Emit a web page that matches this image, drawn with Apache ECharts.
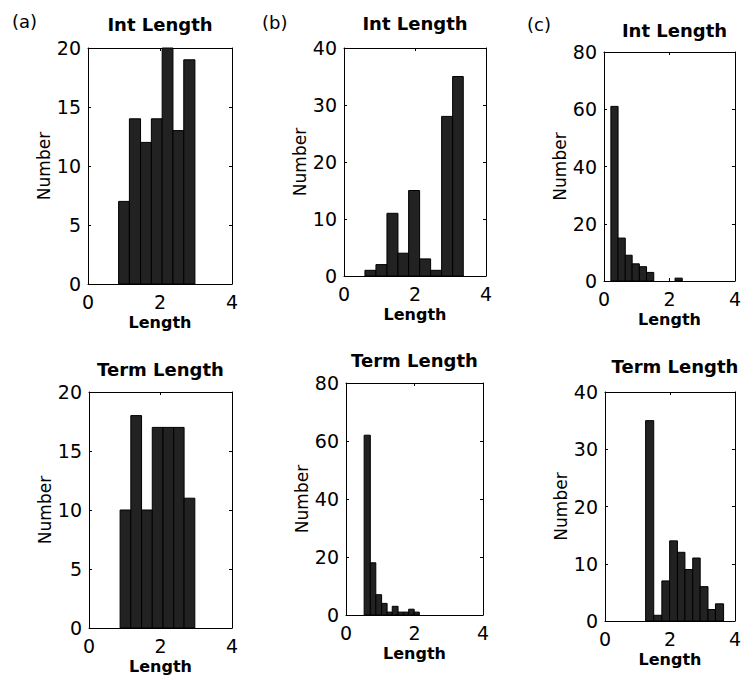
<!DOCTYPE html>
<html>
<head>
<meta charset="utf-8">
<script src="https://cdn.jsdelivr.net/npm/echarts@6/dist/echarts.min.js"></script>
<style>
html,body{margin:0;padding:0;background:#fff;overflow:hidden;}
#chart{width:744px;height:677px;}
</style>
</head>
<body>
<div id="chart"></div>
<script>
// ---- Data ----
const panelLabels = ['(a)', '(b)', '(c)'];
const rowTitles = ['Int Length', 'Term Length'];
const xAxisTitle = 'Length';
const yAxisTitle = 'Number';

const xTicks = [0, 2, 4];
const yTicksA = [0, 5, 10, 15, 20];
const yTicks40 = [0, 10, 20, 30, 40];
const yTicks80 = [0, 20, 40, 60, 80];

// bin edges and counts
const aIntEdges = [0.85, 1.15, 1.46, 1.76, 2.06, 2.36, 2.66, 2.97];
const aIntCounts = [7, 14, 12, 14, 20, 13, 19];
const aTermEdges = [0.87, 1.17, 1.47, 1.77, 2.07, 2.37, 2.66, 2.96];
const aTermCounts = [10, 18, 10, 17, 17, 17, 11];
const bIntEdges = [0.59, 0.90, 1.21, 1.52, 1.82, 2.13, 2.44, 2.75, 3.06, 3.36];
const bIntCounts = [1, 2, 11, 4, 15, 3, 1, 28, 35];
const bTermEdges = [0.53, 0.71, 0.87, 1.04, 1.20, 1.35, 1.52, 1.68, 1.83, 1.99, 2.14];
const bTermCounts = [62, 18, 7, 4, 1, 3, 1, 1, 2, 1];
const cIntEdges = [0.21, 0.43, 0.65, 0.86, 1.08, 1.30, 1.52, 1.74, 1.96, 2.17, 2.39];
const cIntCounts = [61, 15, 9, 6, 5, 3, 0, 0, 0, 1];
const cTermEdges = [1.25, 1.50, 1.75, 1.99, 2.23, 2.46, 2.70, 2.93, 3.17, 3.40, 3.65];
const cTermCounts = [35, 1, 7, 14, 12, 9, 11, 6, 2, 3];

// ---- Layout ----
const panels = [
  {edges: aIntEdges, counts: aIntCounts, yTicks: yTicksA, grid: {left: 88, top: 48, width: 144, height: 236}, title: rowTitles[0], titleY: 24},
  {edges: aTermEdges, counts: aTermCounts, yTicks: yTicksA, grid: {left: 89, top: 392, width: 143, height: 236}, title: rowTitles[1], titleY: 369},
  {edges: bIntEdges, counts: bIntCounts, yTicks: yTicks40, grid: {left: 344, top: 48, width: 142, height: 228}, title: rowTitles[0], titleY: 23},
  {edges: bTermEdges, counts: bTermCounts, yTicks: yTicks80, grid: {left: 346, top: 383, width: 137, height: 232}, title: rowTitles[1], titleY: 360},
  {edges: cIntEdges, counts: cIntCounts, yTicks: yTicks80, grid: {left: 604, top: 52, width: 141, height: 229}, title: rowTitles[0], titleY: 30},
  {edges: cTermEdges, counts: cTermCounts, yTicks: yTicks40, grid: {left: 605, top: 392, width: 140, height: 229}, title: rowTitles[1], titleY: 366}
];
const labelPos = [{x: 12, y: 21}, {x: 262, y: 22}, {x: 527, y: 24}];

const FONT = 'DejaVu Sans';
const lineStyle = {color: '#000', width: 1};

const grids = [], xAxes = [], yAxes = [], series = [], graphics = [];

panels.forEach((p, i) => {
  grids.push(Object.assign({containLabel: false}, p.grid));
  const xBase = {
    gridIndex: i, type: 'value',
    min: xTicks[0], max: xTicks[xTicks.length - 1], interval: xTicks[1] - xTicks[0],
    splitLine: {show: false},
    axisLine: {show: true, onZero: false, lineStyle: lineStyle},
    axisTick: {show: true, inside: true, length: 3, lineStyle: lineStyle}
  };
  xAxes.push(Object.assign({}, xBase, {
    position: 'bottom',
    axisLabel: {show: true, color: '#000', fontFamily: FONT, fontSize: 19, margin: 8},
    name: xAxisTitle, nameLocation: 'middle', nameGap: 30,
    nameTextStyle: {color: '#000', fontFamily: FONT, fontSize: 16, fontWeight: 'bold'}
  }));
  xAxes.push(Object.assign({}, xBase, {position: 'top', axisLabel: {show: false}}));
  const yBase = {
    gridIndex: i, type: 'value',
    min: p.yTicks[0], max: p.yTicks[p.yTicks.length - 1], interval: p.yTicks[1] - p.yTicks[0],
    splitLine: {show: false},
    axisLine: {show: true, onZero: false, lineStyle: lineStyle},
    axisTick: {show: true, inside: true, length: 3, lineStyle: lineStyle}
  };
  yAxes.push(Object.assign({}, yBase, {
    position: 'left',
    axisLabel: {show: true, color: '#000', fontFamily: FONT, fontSize: 19, margin: 7},
    name: yAxisTitle, nameLocation: 'middle', nameGap: 35, nameRotate: 90,
    nameTextStyle: {color: '#000', fontFamily: FONT, fontSize: 17}
  }));
  yAxes.push(Object.assign({}, yBase, {position: 'right', axisLabel: {show: false}}));

  const data = p.counts.map((c, k) => [p.edges[k], p.edges[k + 1], c]);
  series.push({
    type: 'custom',
    xAxisIndex: 2 * i, yAxisIndex: 2 * i,
    data: data,
    encode: {x: [0, 1], y: 2},
    renderItem: function (params, api) {
      const v = api.value(2);
      if (!v) return null;
      const p0 = api.coord([api.value(0), 0]);
      const p1 = api.coord([api.value(1), v]);
      return {
        type: 'rect',
        shape: {x: p0[0], y: p1[1], width: p1[0] - p0[0], height: p0[1] - p1[1]},
        style: {fill: '#222222', stroke: '#000000', lineWidth: 1}
      };
    }
  });

  graphics.push({
    type: 'text', x: p.grid.left + p.grid.width / 2, y: p.titleY,
    style: {text: p.title, fill: '#000', font: 'bold 18px "' + FONT + '"', textAlign: 'center', textVerticalAlign: 'middle'}
  });
});

panelLabels.forEach((t, i) => {
  graphics.push({
    type: 'text', x: labelPos[i].x, y: labelPos[i].y,
    style: {text: t, fill: '#000', font: '18px "' + FONT + '"', textAlign: 'left', textVerticalAlign: 'middle'}
  });
});

const chart = echarts.init(document.getElementById('chart'), null, {renderer: 'svg'});
chart.setOption({
  backgroundColor: '#fff',
  animation: false,
  grid: grids,
  xAxis: xAxes,
  yAxis: yAxes,
  series: series,
  graphic: graphics
});
</script>
</body>
</html>
